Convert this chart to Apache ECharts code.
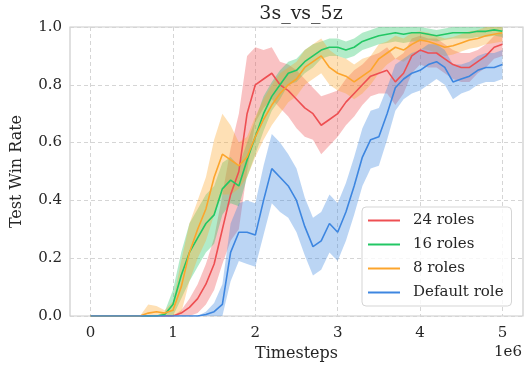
<!doctype html>
<html lang="en">
<head>
    <meta charset="UTF-8">
    <title>3s_vs_5z</title>
    <script src="https://cdn.jsdelivr.net/npm/echarts@6/dist/echarts.min.js"></script>
    <style>
        html, body { margin: 0; padding: 0; background: #fff; }
        #chart { width: 526px; height: 368px; }
    </style>
</head>
<body>
<div id="chart"></div>
<script type="text/javascript">
    // timesteps (x 1e6), one sample every 0.1
    var steps = [];
    for (var i = 0; i <= 50; i++) steps.push(i / 10);

    var xTicks = [0, 1, 2, 3, 4, 5];

    // 24 roles
    var red24 = [0, 0, 0, 0, 0, 0, 0, 0, 0, 0, 0,
        0.01, 0.03, 0.06, 0.11, 0.18, 0.30, 0.42, 0.50, 0.70, 0.80,
        0.82, 0.84, 0.80, 0.78, 0.75, 0.72, 0.70, 0.66, 0.68, 0.70,
        0.74, 0.77, 0.80, 0.83, 0.84, 0.85, 0.81, 0.84, 0.90, 0.92,
        0.91, 0.91, 0.89, 0.87, 0.86, 0.86, 0.88, 0.90, 0.93, 0.94];
    var red24Spread = [0, 0, 0, 0, 0, 0, 0, 0, 0, 0, 0,
        0.01, 0.03, 0.05, 0.07, 0.09, 0.12, 0.16, 0.20, 0.20, 0.13,
        0.10, 0.09, 0.08, 0.09, 0.10, 0.10, 0.09, 0.10, 0.09, 0.08,
        0.08, 0.08, 0.07, 0.07, 0.07, 0.08, 0.08, 0.07, 0.06, 0.05,
        0.05, 0.05, 0.05, 0.05, 0.05, 0.05, 0.04, 0.04, 0.04, 0.04];

    // 16 roles
    var green16 = [0, 0, 0, 0, 0, 0, 0, 0, 0, 0.005, 0.04,
        0.14, 0.22, 0.27, 0.32, 0.35, 0.44, 0.47, 0.45, 0.54, 0.62,
        0.70, 0.76, 0.80, 0.84, 0.85, 0.88, 0.90, 0.92, 0.93, 0.93,
        0.92, 0.93, 0.95, 0.96, 0.97, 0.975, 0.98, 0.975, 0.98, 0.98,
        0.975, 0.97, 0.975, 0.98, 0.98, 0.98, 0.985, 0.985, 0.99, 0.985];
    var green16Spread = [0, 0, 0, 0, 0, 0, 0, 0, 0, 0.01, 0.05,
        0.08, 0.10, 0.10, 0.10, 0.10, 0.09, 0.08, 0.07, 0.06, 0.06,
        0.06, 0.05, 0.05, 0.04, 0.04, 0.04, 0.04, 0.03, 0.03, 0.03,
        0.03, 0.03, 0.03, 0.03, 0.03, 0.03, 0.03, 0.03, 0.03, 0.03,
        0.02, 0.02, 0.02, 0.02, 0.02, 0.02, 0.02, 0.02, 0.02, 0.02];

    // 8 roles
    var orange8 = [0, 0, 0, 0, 0, 0, 0, 0.01, 0.015, 0.01, 0.02,
        0.10, 0.22, 0.30, 0.37, 0.48, 0.56, 0.54, 0.52, 0.55, 0.62,
        0.68, 0.73, 0.77, 0.80, 0.82, 0.86, 0.88, 0.90, 0.86, 0.84,
        0.83, 0.81, 0.83, 0.85, 0.89, 0.91, 0.93, 0.92, 0.94, 0.955,
        0.95, 0.94, 0.93, 0.935, 0.945, 0.955, 0.96, 0.97, 0.975, 0.98];
    var orange8Spread = [0, 0, 0, 0, 0, 0, 0, 0.03, 0.02, 0.01, 0.03,
        0.09, 0.10, 0.10, 0.11, 0.13, 0.14, 0.12, 0.08, 0.07, 0.07,
        0.07, 0.07, 0.07, 0.06, 0.06, 0.06, 0.06, 0.06, 0.06, 0.06,
        0.06, 0.06, 0.06, 0.05, 0.05, 0.04, 0.04, 0.04, 0.04, 0.03,
        0.03, 0.03, 0.03, 0.03, 0.03, 0.03, 0.03, 0.03, 0.03, 0.03];

    // Default role
    var blueDefault = [0, 0, 0, 0, 0, 0, 0, 0, 0, 0, 0, 0, 0, 0,
        0.005, 0.015, 0.04, 0.22, 0.29, 0.29, 0.28,
        0.40, 0.51, 0.48, 0.45, 0.40, 0.31, 0.24, 0.26, 0.32, 0.29,
        0.36, 0.45, 0.55, 0.61, 0.62, 0.70, 0.79, 0.82, 0.84, 0.85,
        0.87, 0.88, 0.86, 0.81, 0.82, 0.83, 0.85, 0.86, 0.86, 0.87];
    var blueDefaultSpread = [0, 0, 0, 0, 0, 0, 0, 0, 0, 0, 0, 0, 0, 0,
        0.01, 0.03, 0.07, 0.10, 0.10, 0.11, 0.11,
        0.12, 0.12, 0.12, 0.11, 0.11, 0.10, 0.10, 0.10, 0.10, 0.10,
        0.10, 0.10, 0.10, 0.10, 0.10, 0.09, 0.08, 0.07, 0.07, 0.07,
        0.07, 0.06, 0.06, 0.06, 0.05, 0.05, 0.05, 0.05, 0.05, 0.05];

    var runs = [
        {name: '24 roles', color: '#ee4f52', mean: red24, spread: red24Spread},
        {name: '16 roles', color: '#22c764', mean: green16, spread: green16Spread},
        {name: '8 roles', color: '#fca52c', mean: orange8, spread: orange8Spread},
        {name: 'Default role', color: '#3d86e0', mean: blueDefault, spread: blueDefaultSpread}
    ];

    var font = 'DejaVu Serif';
    var series = [];
    runs.forEach(function (run) {
        var upper = [], lower = [], line = [];
        steps.forEach(function (t, j) {
            upper.push([t, Math.min(1, run.mean[j] + run.spread[j])]);
            lower.push([t, Math.max(0, run.mean[j] - run.spread[j])]);
            line.push([t, run.mean[j]]);
        });
        // shaded band: polygon through the axis scales
        series.push({
            name: run.name + ' band', type: 'custom', silent: true,
            data: [[0, 0]],
            renderItem: function (params, api) {
                var pts = [];
                upper.forEach(function (p) { pts.push(api.coord(p)); });
                for (var j = lower.length - 1; j >= 0; j--) pts.push(api.coord(lower[j]));
                return {
                    type: 'polygon', shape: {points: pts},
                    style: {fill: run.color, opacity: 0.35}
                };
            }
        });
        series.push({
            name: run.name, type: 'line', data: line, showSymbol: false,
            color: run.color, lineStyle: {width: 1.6, color: run.color}
        });
    });

    var myChart = echarts.init(document.getElementById('chart'));
    var option = {
        animation: false,
        backgroundColor: '#fff',
        title: {
            text: '3s_vs_5z', left: 296, top: 0, textAlign: 'center',
            textStyle: {fontFamily: font, fontSize: 19, fontWeight: 'normal', color: '#262626'}
        },
        grid: {
            left: 70, right: 3, top: 27, bottom: 52, outerBoundsMode: 'none',
            show: true, borderColor: '#cccccc', borderWidth: 1.2
        },
        legend: {
            data: runs.map(function (r) { return r.name; }),
            orient: 'vertical', left: 362, top: 207,
            icon: 'rect', itemWidth: 32, itemHeight: 2, itemGap: 9,
            backgroundColor: 'rgba(255,255,255,0.8)', borderColor: '#d5d5d5',
            borderWidth: 1, borderRadius: 4, padding: [6, 8, 6, 6],
            textStyle: {fontFamily: font, fontSize: 15, color: '#262626', padding: [0, 0, 0, 8]}
        },
        xAxis: {
            type: 'value', min: -0.25, max: 5.25,
            name: 'Timesteps', nameLocation: 'middle', nameGap: 30,
            nameTextStyle: {fontFamily: font, fontSize: 16, color: '#262626'},
            axisLine: {show: false},
            axisTick: {show: false, customValues: xTicks},
            axisLabel: {
                customValues: xTicks, margin: 10,
                fontFamily: font, fontSize: 15, color: '#262626'
            },
            splitLine: {show: true, lineStyle: {color: '#d5d5d5', type: [4, 3], width: 1}}
        },
        yAxis: {
            type: 'value', min: 0, max: 1, interval: 0.2,
            name: 'Test Win Rate', nameLocation: 'middle', nameGap: 45,
            nameTextStyle: {fontFamily: font, fontSize: 16, color: '#262626'},
            axisLine: {show: false}, axisTick: {show: false},
            axisLabel: {
                margin: 8, fontFamily: font, fontSize: 15, color: '#262626',
                formatter: function (v) { return v.toFixed(1); }
            },
            splitLine: {show: true, lineStyle: {color: '#d5d5d5', type: [4, 3], width: 1}}
        },
        graphic: [{
            type: 'text', right: 4, top: 345,
            style: {text: '1e6', fontFamily: font, fontSize: 15, fill: '#262626'}
        }],
        series: series
    };
    myChart.setOption(option);
</script>
</body>
</html>
